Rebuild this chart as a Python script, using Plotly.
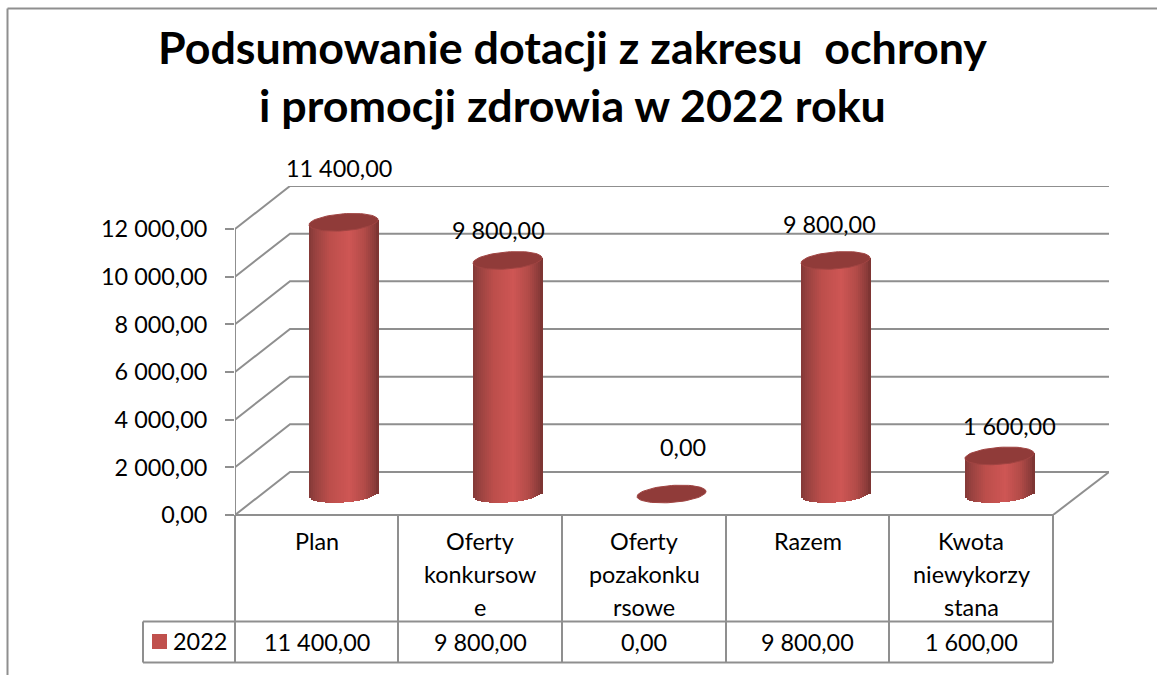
import math
import plotly.graph_objects as go

# ---- data ----
categories = [["Plan"], ["Oferty", "konkursow", "e"], ["Oferty", "pozakonku", "rsowe"], ["Razem"], ["Kwota", "niewykorzy", "stana"]]
values_2022 = [11400, 9800, 0, 9800, 1600]
series_name = "2022"
y_ticks = [0, 2000, 4000, 6000, 8000, 10000, 12000]
title_lines = ["Podsumowanie dotacji z zakresu\u00a0\u00a0ochrony", "i promocji zdrowia w 2022 roku"]

# ---- layout (canvas pixels) ----
W, H = 1157, 675
FONT = "Lato"
GREY = "#8f8f8f"
LW = 2
L, R, B, T = 235, 1109, 515, 186      # plot box
PXU = 12000 / 286                     # value units per pixel
CX0, CDX = 343.5, 164                 # first cylinder centre, spacing
DX_BACK, DY_BACK = 55, 43             # depth offset of the back wall
CYL_LIFT = 21                         # cylinder centre above the front edge
HALF_W = 34.5                         # cylinder half width (px)
ELL_B, ELL_T = 8.5, 2.5               # ellipse half height, tilt (px)
STRIPS = 34
label_shift = [(-5, -54), (-9, -30), (11, -47), (-6, -36), (10, -30)]
col_edges = [235, 398, 562, 726, 889, 1053]


def fmt(v):
    return f"{v:,.2f}".replace(",", " ").replace(".", ",")


def paper_x(x):
    return x / W


def paper_y(y):
    return 1 - y / H


stops = [(0, (130, 56, 54)), (0.08, (150, 65, 63)), (0.3, (188, 78, 75)), (0.58, (206, 86, 84)),
         (0.8, (178, 75, 72)), (0.95, (140, 60, 58)), (1, (120, 50, 48))]


def shade(f):
    for (a, ca), (b, cb) in zip(stops, stops[1:]):
        if f <= b:
            k = (f - a) / (b - a)
            return "rgb(%d,%d,%d)" % tuple(round(p + (q - p) * k) for p, q in zip(ca, cb))
    return "rgb(120,50,48)"


fig = go.Figure()

# walls and gridlines, front-wall scale
x_unit = lambda px: (px - CX0) / CDX
for t in y_ticks:
    fig.add_trace(go.Scatter(
        x=[x_unit(L), x_unit(L + DX_BACK), x_unit(R)],
        y=[t, t + DY_BACK * PXU, t + DY_BACK * PXU],
        mode="lines", line=dict(color=GREY, width=LW), hoverinfo="skip", showlegend=False))
fig.add_trace(go.Scatter(x=[x_unit(L), x_unit(L)], y=[0, 12000], mode="lines",
                         line=dict(color=GREY, width=LW), hoverinfo="skip", showlegend=False))
fig.add_trace(go.Scatter(x=[x_unit(col_edges[-1]), x_unit(R)], y=[0, DY_BACK * PXU], mode="lines",
                         line=dict(color=GREY, width=LW), hoverinfo="skip", showlegend=False))

# cylinder bodies: one bar trace per vertical shading strip
xs = list(range(len(values_2022)))
w_unit = 2 * HALF_W / CDX
for i in range(STRIPS):
    f = (i + 0.5) / STRIPS
    s = 2 * f - 1
    tilt_up = ELL_T * s * PXU
    low = (-ELL_T * s + ELL_B * math.sqrt(max(0, 1 - s * s))) * PXU
    fig.add_trace(go.Bar(
        x=xs,
        y=[(v + tilt_up + low) if v > 0 else None for v in values_2022],
        base=[-low] * len(xs),
        width=w_unit / STRIPS * 1.25,
        offset=-w_unit / 2 + i * w_unit / STRIPS,
        marker=dict(color=shade(f), line=dict(width=0)),
        yaxis="y2", hoverinfo="skip", showlegend=False))

# cylinder tops
for i, v in enumerate(values_2022):
    ts = [2 * math.pi * k / 72 for k in range(73)]
    fig.add_trace(go.Scatter(
        x=[i + HALF_W / CDX * math.cos(t) for t in ts],
        y=[v + (ELL_T * math.cos(t) + ELL_B * math.sin(t)) * PXU for t in ts],
        mode="lines", fill="toself", fillcolor="#903b39", line=dict(color="#a04442", width=1),
        yaxis="y2", hoverinfo="skip", showlegend=False))

shapes = []


def line(x0, y0, x1, y1, width=LW):
    shapes.append(dict(type="line", xref="paper", yref="paper", x0=paper_x(x0), y0=paper_y(y0),
                       x1=paper_x(x1), y1=paper_y(y1), line=dict(color=GREY, width=width), layer="below"))


# chart frame
line(7.5, 8.5, W, 8.5)
line(7.5, 8.5, 7.5, H)
# data table
for xe in col_edges:
    line(xe, B, xe, 662.5)
line(L, B, col_edges[-1], B)
line(143, 621.5, col_edges[-1], 621.5)
line(143, 662.5, col_edges[-1], 662.5)
line(143, 621.5, 143, 662.5)
shapes.append(dict(type="rect", xref="paper", yref="paper", x0=paper_x(152), x1=paper_x(167),
                   y0=paper_y(634), y1=paper_y(649), fillcolor="#c0504d", line=dict(width=0)))

ann = []


def text(x, y, s, size=23.4, bold=False, anchor="center"):
    ann.append(dict(xref="paper", yref="paper", x=paper_x(x), y=paper_y(y), text=f"<b>{s}</b>" if bold else s,
                    showarrow=False, xanchor=anchor, yanchor="middle",
                    font=dict(family=FONT, size=size, color="#000000")))


text(572, 47, title_lines[0], size=44.8, bold=True)
text(572, 105, title_lines[1], size=44.8, bold=True)
text(200, 641, series_name)
for i, cat in enumerate(categories):
    cx = (col_edges[i] + col_edges[i + 1]) / 2
    for j, part in enumerate(cat):
        text(cx, 541 + 33 * j, part)
    text(cx, 642, fmt(values_2022[i]))

# value labels, tied to the value on the cylinder axis
for i, v in enumerate(values_2022):
    ann.append(dict(xref="x", yref="y2", x=i, y=v, text=fmt(v), showarrow=False,
                    xshift=label_shift[i][0], yshift=-label_shift[i][1],
                    font=dict(family=FONT, size=23.4, color="#000000")))

y_top = (B - T) * PXU
fig.update_layout(
    width=W, height=H, margin=dict(l=0, r=0, t=0, b=0, pad=0, autoexpand=False),
    autosize=False, paper_bgcolor="#ffffff", plot_bgcolor="rgba(0,0,0,0)",
    barmode="overlay", bargap=0, showlegend=False,
    shapes=shapes, annotations=ann,
    font=dict(family=FONT, size=23, color="#000000"),
    xaxis=dict(domain=[paper_x(L), paper_x(R)], range=[x_unit(L), x_unit(R)], visible=False, fixedrange=True),
    yaxis=dict(domain=[paper_y(B), paper_y(T)], range=[0, y_top], showgrid=False, zeroline=False,
               showline=False, ticks="outside", ticklen=9, tickwidth=LW, tickcolor=GREY,
               tickvals=y_ticks, ticktext=[fmt(t) for t in y_ticks],
               tickfont=dict(family=FONT, size=23.4, color="#000000"), ticklabelstandoff=13, fixedrange=True),
    yaxis2=dict(domain=[paper_y(B), paper_y(T)], overlaying="y", anchor="x",
                range=[-CYL_LIFT * PXU, y_top - CYL_LIFT * PXU], visible=False, fixedrange=True),
)

fig.write_html("out.html", config={"displayModeBar": False},
               post_script="document.body.style.margin='0';document.documentElement.style.overflow='hidden';")
